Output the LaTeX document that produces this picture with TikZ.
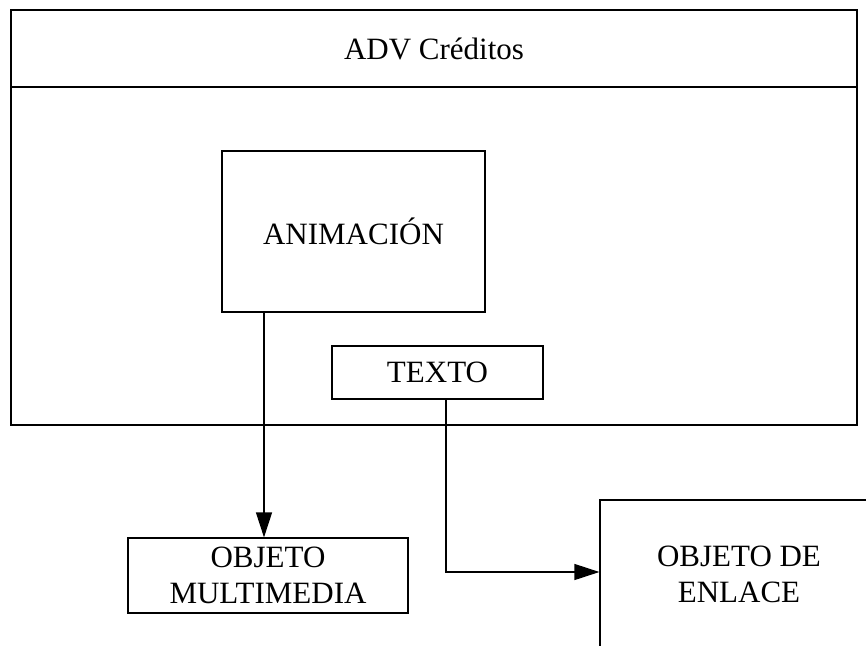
\documentclass[tikz,border=0pt]{standalone}
\usepackage{fontspec}
\setmainfont{Liberation Serif}
\usepackage{tikz}
\usetikzlibrary{arrows.meta, positioning, calc}

\begin{document}
\begin{tikzpicture}[x=1pt, y=-1pt,
  box/.style={draw, line width=1.2pt, inner sep=0pt, align=center,
    font=\fontsize{31}{36}\selectfont},
  arr/.style={line width=1.2pt, -{Triangle[length=25pt, width=16pt]}}
]

  \useasboundingbox (0,0) rectangle (866,645);
  \clip (0,0) rectangle (866,645);

  % ADV frame with its header
  \node[box, line width=1.5pt, minimum width=846pt, minimum height=415pt] (adv) at (434,217.5) {};
  \node[box, line width=1.5pt, minimum width=846pt, minimum height=77pt, anchor=north] (advtitle) at (adv.north) {ADV Créditos};

  % inner boxes
  \node[box, minimum width=263pt, minimum height=161pt] (anim) at (353.5,231.5) {ANIMACIÓN};
  \node[box, minimum width=211pt, minimum height=53pt] (texto) at (437.5,372.5) {TEXTO};

  % objects below
  \node[box, minimum width=280pt, minimum height=75pt] (multi) at (268,575.5) {OBJETO\\MULTIMEDIA};
  \node[box, minimum width=278pt, minimum height=148pt] (enlace) at (739,574) {OBJETO DE\\ENLACE};

  % connectors
  \draw[arr] ([xshift=-4pt]anim.south -| multi.north) -- ([xshift=-4pt]multi.north);
  \draw[arr] ([xshift=8.5pt]texto.south) |- ([yshift=2pt]enlace.west);

\end{tikzpicture}
\end{document}
